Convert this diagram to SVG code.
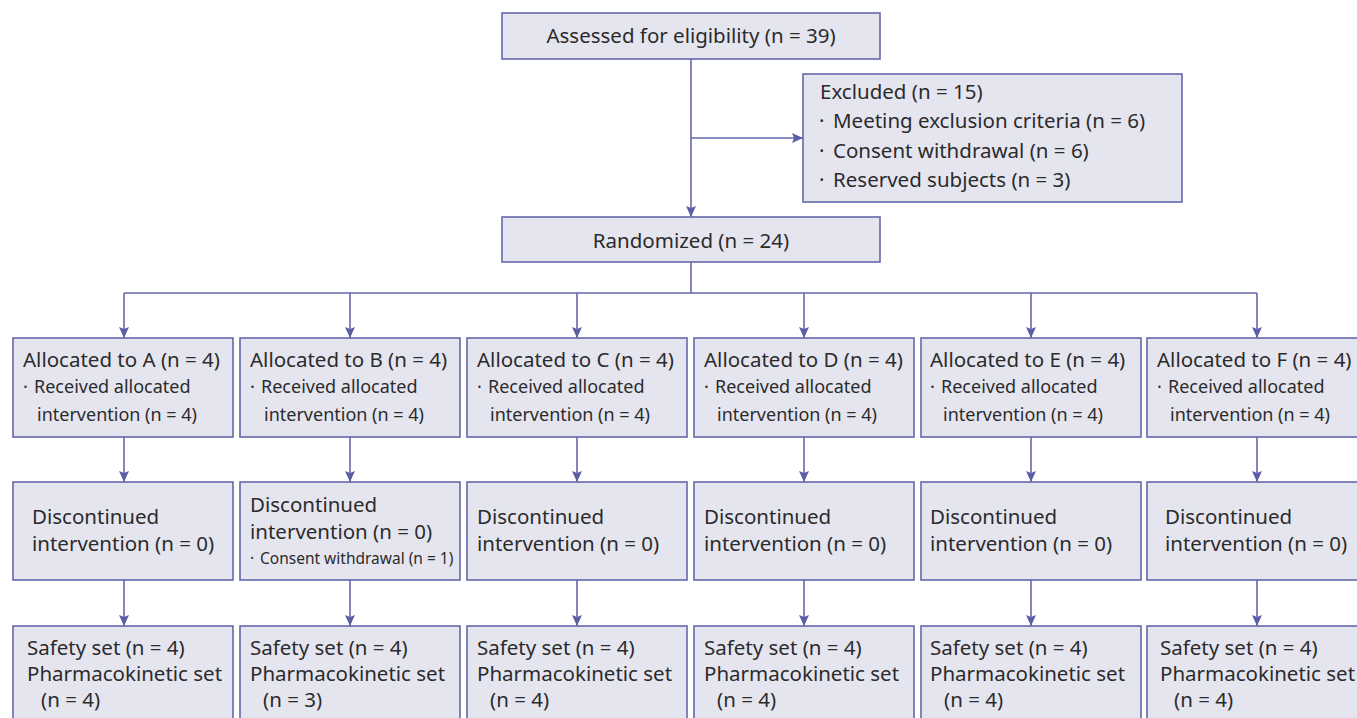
<svg xmlns="http://www.w3.org/2000/svg" width="1357" height="718" viewBox="0 0 1357 718">
<defs>
<style>
.box{fill:#e5e5f0;stroke:#6567ab;stroke-width:1.6}
.ln{fill:none;stroke:#6567ab;stroke-width:1.6}
.t{font-family:"Noto Sans","Open Sans",sans-serif;font-size:20.5px;fill:#2b2b2b}
.s{font-family:"Noto Sans","Open Sans",sans-serif;font-size:18px;fill:#2b2b2b}
.xs{font-family:"Noto Sans","Open Sans",sans-serif;font-size:15.5px;fill:#2b2b2b}
.c{text-anchor:middle}
</style>
<marker id="ah" markerUnits="userSpaceOnUse" markerWidth="12" markerHeight="12" viewBox="0 0 12 12" refX="11" refY="6" orient="auto">
<path d="M0,1 L11,6 L0,11 L2,6 z" fill="#5b5ea6"/>
</marker>
</defs>
<rect width="1357" height="718" fill="#ffffff"/>

<g id="connectors">
<line class="ln" x1="691" y1="59" x2="691" y2="217" marker-end="url(#ah)"/>
<line class="ln" x1="691" y1="138" x2="803" y2="138" marker-end="url(#ah)"/>
<line class="ln" x1="691" y1="262" x2="691" y2="293"/>
<line class="ln" x1="124" y1="293" x2="1257" y2="293"/>
<line class="ln" x1="124" y1="293" x2="124" y2="338" marker-end="url(#ah)"/>
<line class="ln" x1="350" y1="293" x2="350" y2="338" marker-end="url(#ah)"/>
<line class="ln" x1="577" y1="293" x2="577" y2="338" marker-end="url(#ah)"/>
<line class="ln" x1="804" y1="293" x2="804" y2="338" marker-end="url(#ah)"/>
<line class="ln" x1="1031" y1="293" x2="1031" y2="338" marker-end="url(#ah)"/>
<line class="ln" x1="1257" y1="293" x2="1257" y2="338" marker-end="url(#ah)"/>
<line class="ln" x1="124" y1="437" x2="124" y2="482" marker-end="url(#ah)"/>
<line class="ln" x1="350" y1="437" x2="350" y2="482" marker-end="url(#ah)"/>
<line class="ln" x1="577" y1="437" x2="577" y2="482" marker-end="url(#ah)"/>
<line class="ln" x1="804" y1="437" x2="804" y2="482" marker-end="url(#ah)"/>
<line class="ln" x1="1031" y1="437" x2="1031" y2="482" marker-end="url(#ah)"/>
<line class="ln" x1="1257" y1="437" x2="1257" y2="482" marker-end="url(#ah)"/>
<line class="ln" x1="124" y1="580" x2="124" y2="626" marker-end="url(#ah)"/>
<line class="ln" x1="350" y1="580" x2="350" y2="626" marker-end="url(#ah)"/>
<line class="ln" x1="577" y1="580" x2="577" y2="626" marker-end="url(#ah)"/>
<line class="ln" x1="804" y1="580" x2="804" y2="626" marker-end="url(#ah)"/>
<line class="ln" x1="1031" y1="580" x2="1031" y2="626" marker-end="url(#ah)"/>
<line class="ln" x1="1257" y1="580" x2="1257" y2="626" marker-end="url(#ah)"/>
</g>

<g id="assessed">
<rect class="box" x="502" y="13" width="378" height="46"/>
<text class="t c" x="691" y="43">Assessed for eligibility (n = 39)</text>
</g>

<g id="excluded">
<rect class="box" x="803" y="74" width="379" height="128"/>
<text class="t" x="820" y="99">Excluded (n = 15)</text>
<text class="t"><tspan x="819" y="128">·</tspan><tspan x="833" y="128">Meeting exclusion criteria (n = 6)</tspan></text>
<text class="t"><tspan x="819" y="158">·</tspan><tspan x="833" y="158">Consent withdrawal (n = 6)</tspan></text>
<text class="t"><tspan x="819" y="187">·</tspan><tspan x="833" y="187">Reserved subjects (n = 3)</tspan></text>
</g>

<g id="randomized">
<rect class="box" x="502" y="217" width="378" height="45"/>
<text class="t c" x="691" y="248">Randomized (n = 24)</text>
</g>

<g id="allocA">
<rect class="box" x="13" y="338" width="220" height="99"/>
<text class="t" x="23" y="367">Allocated to A (n = 4)</text>
<text class="s"><tspan x="23" y="393">·</tspan><tspan x="34" y="393">Received allocated</tspan><tspan x="37" y="421">intervention (n = 4)</tspan></text>
</g>
<g id="allocB">
<rect class="box" x="240" y="338" width="220" height="99"/>
<text class="t" x="250" y="367">Allocated to B (n = 4)</text>
<text class="s"><tspan x="250" y="393">·</tspan><tspan x="261" y="393">Received allocated</tspan><tspan x="264" y="421">intervention (n = 4)</tspan></text>
</g>
<g id="allocC">
<rect class="box" x="467" y="338" width="220" height="99"/>
<text class="t" x="477" y="367">Allocated to C (n = 4)</text>
<text class="s"><tspan x="477" y="393">·</tspan><tspan x="488" y="393">Received allocated</tspan><tspan x="490" y="421">intervention (n = 4)</tspan></text>
</g>
<g id="allocD">
<rect class="box" x="694" y="338" width="220" height="99"/>
<text class="t" x="704" y="367">Allocated to D (n = 4)</text>
<text class="s"><tspan x="704" y="393">·</tspan><tspan x="715" y="393">Received allocated</tspan><tspan x="717" y="421">intervention (n = 4)</tspan></text>
</g>
<g id="allocE">
<rect class="box" x="921" y="338" width="220" height="99"/>
<text class="t" x="930" y="367">Allocated to E (n = 4)</text>
<text class="s"><tspan x="930" y="393">·</tspan><tspan x="941" y="393">Received allocated</tspan><tspan x="943" y="421">intervention (n = 4)</tspan></text>
</g>
<g id="allocF">
<rect class="box" x="1147" y="338" width="230" height="99"/>
<text class="t" x="1157" y="367">Allocated to F (n = 4)</text>
<text class="s"><tspan x="1157" y="393">·</tspan><tspan x="1168" y="393">Received allocated</tspan><tspan x="1170" y="421">intervention (n = 4)</tspan></text>
</g>

<g id="discA">
<rect class="box" x="13" y="482" width="220" height="98"/>
<text class="t"><tspan x="32" y="524">Discontinued</tspan><tspan x="32" y="551">intervention (n = 0)</tspan></text>
</g>
<g id="discB">
<rect class="box" x="240" y="482" width="220" height="98"/>
<text class="t"><tspan x="250" y="512">Discontinued</tspan><tspan x="250" y="539">intervention (n = 0)</tspan></text>
<text class="xs"><tspan x="250" y="564">·</tspan><tspan x="260" y="564">Consent withdrawal (n = 1)</tspan></text>
</g>
<g id="discC">
<rect class="box" x="467" y="482" width="220" height="98"/>
<text class="t"><tspan x="477" y="524">Discontinued</tspan><tspan x="477" y="551">intervention (n = 0)</tspan></text>
</g>
<g id="discD">
<rect class="box" x="694" y="482" width="220" height="98"/>
<text class="t"><tspan x="704" y="524">Discontinued</tspan><tspan x="704" y="551">intervention (n = 0)</tspan></text>
</g>
<g id="discE">
<rect class="box" x="921" y="482" width="220" height="98"/>
<text class="t"><tspan x="930" y="524">Discontinued</tspan><tspan x="930" y="551">intervention (n = 0)</tspan></text>
</g>
<g id="discF">
<rect class="box" x="1147" y="482" width="230" height="98"/>
<text class="t"><tspan x="1165" y="524">Discontinued</tspan><tspan x="1165" y="551">intervention (n = 0)</tspan></text>
</g>

<g id="setA">
<rect class="box" x="13" y="626" width="220" height="110"/>
<text class="t"><tspan x="27" y="655">Safety set (n = 4)</tspan><tspan x="27" y="681">Pharmacokinetic set</tspan><tspan x="41" y="707">(n = 4)</tspan></text>
</g>
<g id="setB">
<rect class="box" x="240" y="626" width="220" height="110"/>
<text class="t"><tspan x="250" y="655">Safety set (n = 4)</tspan><tspan x="250" y="681">Pharmacokinetic set</tspan><tspan x="263" y="707">(n = 3)</tspan></text>
</g>
<g id="setC">
<rect class="box" x="467" y="626" width="220" height="110"/>
<text class="t"><tspan x="477" y="655">Safety set (n = 4)</tspan><tspan x="477" y="681">Pharmacokinetic set</tspan><tspan x="490" y="707">(n = 4)</tspan></text>
</g>
<g id="setD">
<rect class="box" x="694" y="626" width="220" height="110"/>
<text class="t"><tspan x="704" y="655">Safety set (n = 4)</tspan><tspan x="704" y="681">Pharmacokinetic set</tspan><tspan x="717" y="707">(n = 4)</tspan></text>
</g>
<g id="setE">
<rect class="box" x="921" y="626" width="220" height="110"/>
<text class="t"><tspan x="930" y="655">Safety set (n = 4)</tspan><tspan x="930" y="681">Pharmacokinetic set</tspan><tspan x="944" y="707">(n = 4)</tspan></text>
</g>
<g id="setF">
<rect class="box" x="1147" y="626" width="230" height="110"/>
<text class="t"><tspan x="1160" y="655">Safety set (n = 4)</tspan><tspan x="1160" y="681">Pharmacokinetic set</tspan><tspan x="1174" y="707">(n = 4)</tspan></text>
</g>
</svg>
